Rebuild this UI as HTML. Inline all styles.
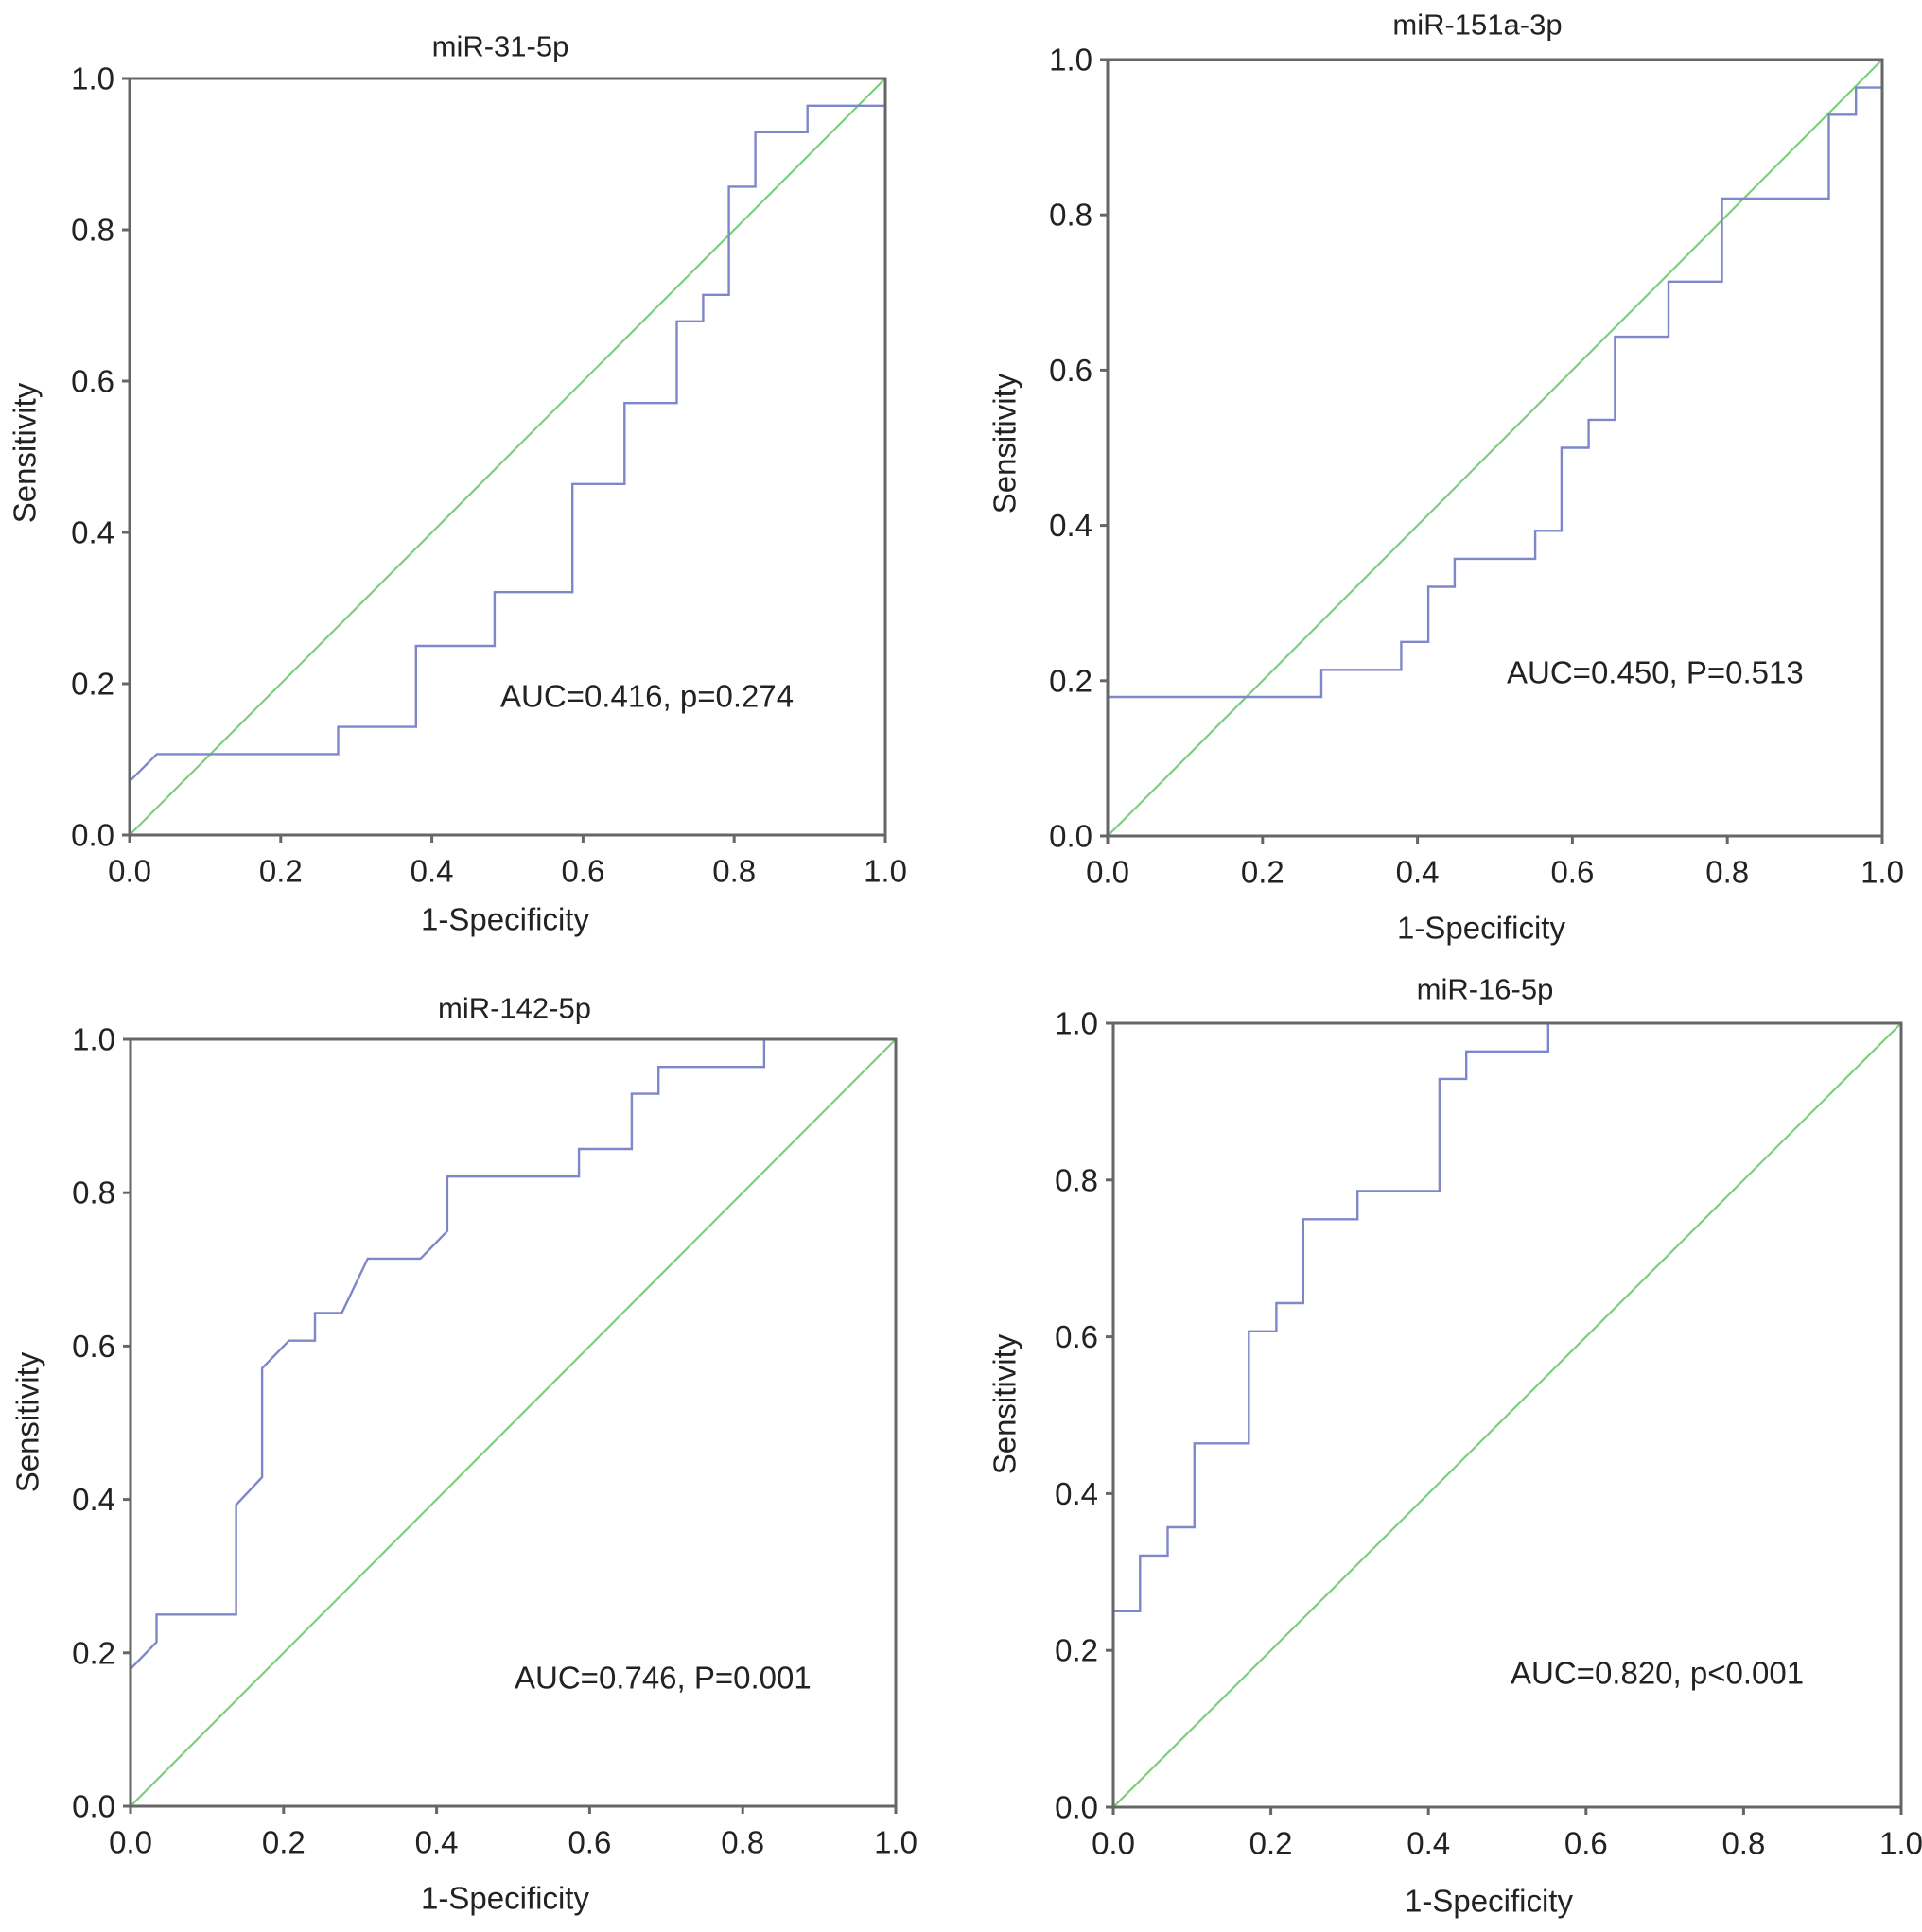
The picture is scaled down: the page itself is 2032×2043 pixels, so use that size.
<!DOCTYPE html>
<html><head><meta charset="utf-8"><style>
html,body{margin:0;padding:0;background:#fff}
svg{display:block}
text{font-family:"Liberation Sans",Arial,sans-serif;fill:#222}
</style></head><body>
<svg id="fig" width="2032" height="2043" viewBox="0 0 2032 2043"></svg>
<script>
// Panel 1: miR-31-5p
const fpr1 = [0,0.036,0.276,0.276,0.379,0.379,0.483,0.483,0.586,0.586,0.655,0.655,0.724,0.724,0.759,0.759,0.793,0.793,0.828,0.828,0.897,0.897,1,1];
const tpr1 = [0.071,0.107,0.107,0.143,0.143,0.25,0.25,0.321,0.321,0.464,0.464,0.571,0.571,0.679,0.679,0.714,0.714,0.857,0.857,0.929,0.929,0.964,0.964,1];
// Panel 2: miR-151a-3p
const fpr2 = [0,0.276,0.276,0.379,0.379,0.414,0.414,0.448,0.448,0.552,0.552,0.586,0.586,0.621,0.621,0.655,0.655,0.724,0.724,0.793,0.793,0.931,0.931,0.966,0.966,1,1];
const tpr2 = [0.179,0.179,0.214,0.214,0.25,0.25,0.321,0.321,0.357,0.357,0.393,0.393,0.5,0.5,0.536,0.536,0.643,0.643,0.714,0.714,0.821,0.821,0.929,0.929,0.964,0.964,1];
// Panel 3: miR-142-5p
const fpr3 = [0,0.034,0.034,0.138,0.138,0.172,0.172,0.207,0.241,0.241,0.276,0.310,0.379,0.414,0.414,0.586,0.586,0.655,0.655,0.690,0.690,0.828,0.828,1];
const tpr3 = [0.179,0.214,0.25,0.25,0.393,0.429,0.571,0.607,0.607,0.643,0.643,0.714,0.714,0.75,0.821,0.821,0.857,0.857,0.929,0.929,0.964,0.964,1,1];
// Panel 4: miR-16-5p
const fpr4 = [0,0.034,0.034,0.069,0.069,0.103,0.103,0.172,0.172,0.207,0.207,0.241,0.241,0.310,0.310,0.414,0.414,0.448,0.448,0.552,0.552,1];
const tpr4 = [0.25,0.25,0.321,0.321,0.357,0.357,0.464,0.464,0.607,0.607,0.643,0.643,0.75,0.75,0.786,0.786,0.929,0.929,0.964,0.964,1,1];
const tickValues = [0,0.2,0.4,0.6,0.8,1.0];
const tickLabels = ["0.0","0.2","0.4","0.6","0.8","1.0"];
const titles = ["miR-31-5p","miR-151a-3p","miR-142-5p","miR-16-5p"];
const aucLabels = ["AUC=0.416, p=0.274","AUC=0.450, P=0.513","AUC=0.746, P=0.001","AUC=0.820, p<0.001"];

const NS="http://www.w3.org/2000/svg";
const svg=document.getElementById('fig');
function mk(tag,attrs,parent){const e=document.createElementNS(NS,tag);for(const k in attrs)e.setAttribute(k,attrs[k]);(parent||svg).appendChild(e);return e;}

const panels=[
 {box:[137,83,936,883],title:[529,49],yl:[26,479],xl:[534,972],auc:[529,736],fpr:fpr1,tpr:tpr1},
 {box:[1171,63,1990,884],title:[1562,26],yl:[1062,469],xl:[1566,981],auc:[1593,711],fpr:fpr2,tpr:tpr2},
 {box:[138,1099,947,1910],title:[544,1066],yl:[29,1504],xl:[534,2007],auc:[544,1774],fpr:fpr3,tpr:tpr3},
 {box:[1177,1082,2010,1911],title:[1570,1046],yl:[1062,1485],xl:[1574,2010],auc:[1597,1769],fpr:fpr4,tpr:tpr4}
];
panels.forEach((p,i)=>{
 const [x0,y0,x1,y1]=p.box;
 const sx=v=>x0+v*(x1-x0), sy=v=>y1-v*(y1-y0);
 const g=mk('g',{});
 
 
 const t=mk('text',{x:p.title[0],y:p.title[1],'font-size':31,'text-anchor':'middle','dominant-baseline':'central'},g);
 t.textContent=titles[i];
 
 
 const d=mk('line',{x1:sx(0),y1:sy(0),x2:sx(1),y2:sy(1),stroke:'#7ccf7c','stroke-width':2.2},g);
 
 
 const pts=p.fpr.map((f,k)=>sx(f).toFixed(1)+','+sy(p.tpr[k]).toFixed(1)).join(' ');
 const c=mk('polyline',{points:pts,fill:'none',stroke:'#7d87c9','stroke-width':2.4},g);
 
 
 const r=mk('rect',{x:x0,y:y0,width:x1-x0,height:y1-y0,fill:'none',stroke:'#666','stroke-width':3},g);
 
 
 tickValues.forEach((v,k)=>{
  mk('line',{x1:sx(v),y1:y1,x2:sx(v),y2:y1+8,stroke:'#666','stroke-width':3},g);
  const xt=mk('text',{x:sx(v),y:y1+38,'font-size':33,'text-anchor':'middle','dominant-baseline':'central'},g);
  xt.textContent=tickLabels[k];
  
  
  mk('line',{x1:x0-8,y1:sy(v),x2:x0,y2:sy(v),stroke:'#666','stroke-width':3},g);
  const yt=mk('text',{x:x0-16,y:sy(v),'font-size':33,'text-anchor':'end','dominant-baseline':'central'},g);
  yt.textContent=tickLabels[k];
  
  
 });
 const xl=mk('text',{x:p.xl[0],y:p.xl[1],'font-size':33,'text-anchor':'middle','dominant-baseline':'central'},g);
 xl.textContent='1-Specificity';
 
 
 const yl=mk('text',{x:p.yl[0],y:p.yl[1],'font-size':33,'text-anchor':'middle','dominant-baseline':'central',transform:`rotate(-90 ${p.yl[0]} ${p.yl[1]})`},g);
 yl.textContent='Sensitivity';
 
 
 const a=mk('text',{x:p.auc[0],y:p.auc[1],'font-size':33,'dominant-baseline':'central'},g);
 a.textContent=aucLabels[i];
 
 
});
</script>
</body></html>
